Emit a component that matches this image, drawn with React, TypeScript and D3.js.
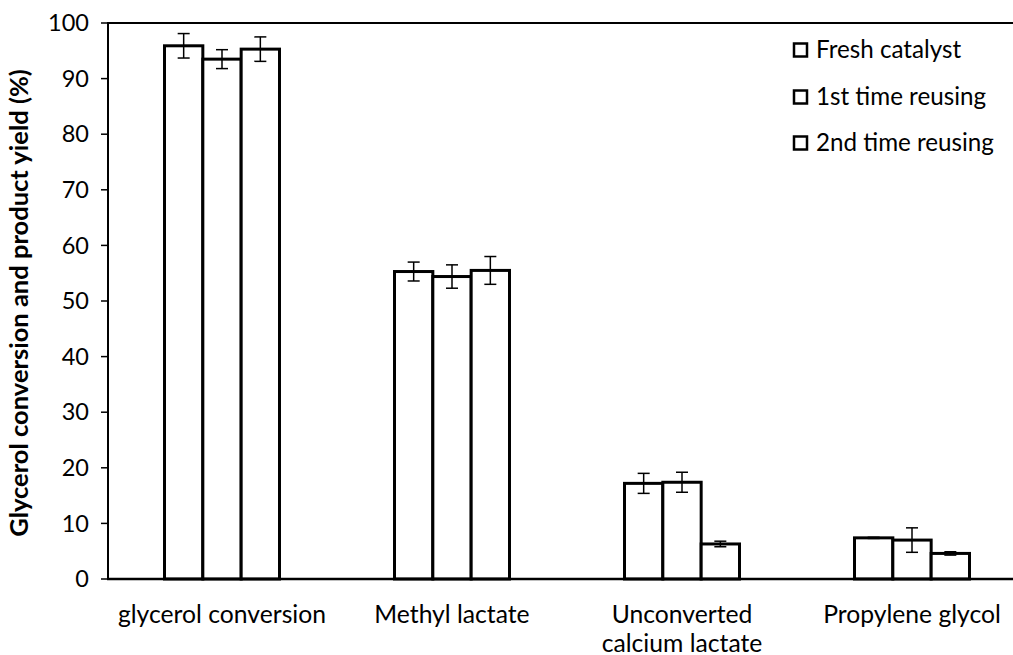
import React from "react";
import * as d3 from "d3";

const categories = ["glycerol conversion", "Methyl lactate", "Unconverted\ncalcium lactate", "Propylene glycol"];
const seriesNames = ["Fresh catalyst", "1st time reusing", "2nd time reusing"];
const freshValues = [95.9, 55.3, 17.2, 7.4];
const reuse1Values = [93.5, 54.4, 17.4, 7.0];
const reuse2Values = [95.3, 55.5, 6.3, 4.6];
const freshErrors = [2.2, 1.7, 1.8, 0.1];
const reuse1Errors = [1.7, 2.1, 1.8, 2.2];
const reuse2Errors = [2.2, 2.5, 0.5, 0.3];
const yTicks = [0, 10, 20, 30, 40, 50, 60, 70, 80, 90, 100];

const W = 1013;
const H = 655;
const FONT = "Lato, 'Open Sans', sans-serif";

export default function App() {
  const values = [freshValues, reuse1Values, reuse2Values];
  const errors = [freshErrors, reuse1Errors, reuse2Errors];
  const x = d3.scaleBand<string>().domain(categories).range([107, 1027]).paddingInner(0.5).paddingOuter(0.25);
  const xs = d3.scaleBand<number>().domain([0, 1, 2]).range([0, x.bandwidth()]);
  const y = d3.scaleLinear().domain([0, 100]).range([579, 23]);
  const legendY = [50, 97, 143];

  return (
    <svg width={W} height={H} style={{ position: "absolute", left: 0, top: 0, background: "#fff" }}>
      <line x1={107} x2={W} y1={y(100)} y2={y(100)} stroke="#000" strokeWidth={2} />
      {categories.map((c, i) => (
        <g key={c}>
          {values.map((vals, s) => {
            const bx = (x(c) as number) + (xs(s) as number);
            const bw = xs.bandwidth();
            return (
              <rect key={s} x={bx} y={y(vals[i])} width={bw} height={y(0) - y(vals[i])}
                fill="#fff" stroke="#000" strokeWidth={3} />
            );
          })}
          {values.map((vals, s) => {
            const cx = (x(c) as number) + (xs(s) as number) + xs.bandwidth() / 2;
            const hi = y(vals[i] + errors[s][i]);
            const lo = y(vals[i] - errors[s][i]);
            return (
              <g key={"e" + s} stroke="#000" strokeWidth={1.5}>
                <line x1={cx} x2={cx} y1={hi} y2={lo} />
                <line x1={cx - 6} x2={cx + 6} y1={hi} y2={hi} />
                <line x1={cx - 6} x2={cx + 6} y1={lo} y2={lo} />
              </g>
            );
          })}
        </g>
      ))}
      <line x1={108} x2={108} y1={y(100)} y2={y(0)} stroke="#000" strokeWidth={2} />
      {yTicks.map((t) => (
        <g key={t}>
          <line x1={101} x2={108} y1={y(t)} y2={y(t)} stroke="#000" strokeWidth={1.5} />
          <text x={89} y={y(t)} dy="0.35em" textAnchor="end" fontFamily={FONT} fontSize={23.5} fill="#000">{t}</text>
        </g>
      ))}
      <line x1={107} x2={W} y1={y(0)} y2={y(0)} stroke="#000" strokeWidth={2.5} />
      {categories.map((c) => {
        const lines = c.split("\n");
        const cx = (x(c) as number) + x.bandwidth() / 2;
        return (
          <text key={c} x={cx} y={614} textAnchor="middle" fontFamily={FONT} fontSize={24.7} fill="#000">
            {lines.map((l, k) => (
              <tspan key={k} x={cx} dy={k === 0 ? "0.35em" : 29}>{l}</tspan>
            ))}
          </text>
        );
      })}
      <text transform={`translate(19,${y(50) + 2}) rotate(-90)`} textAnchor="middle" dy="0.35em"
        fontFamily={FONT} fontWeight="bold" fontSize={25.5} fill="#000">
        Glycerol conversion and product yield (%)
      </text>
      {seriesNames.map((n, k) => (
        <g key={n}>
          <rect x={794} y={legendY[k] - 6.5} width={13} height={13} fill="#fff" stroke="#000" strokeWidth={2.5} />
          <text x={816} y={legendY[k]} dy="0.35em" fontFamily={FONT} fontSize={24.2} fill="#000">{n}</text>
        </g>
      ))}
    </svg>
  );
}
